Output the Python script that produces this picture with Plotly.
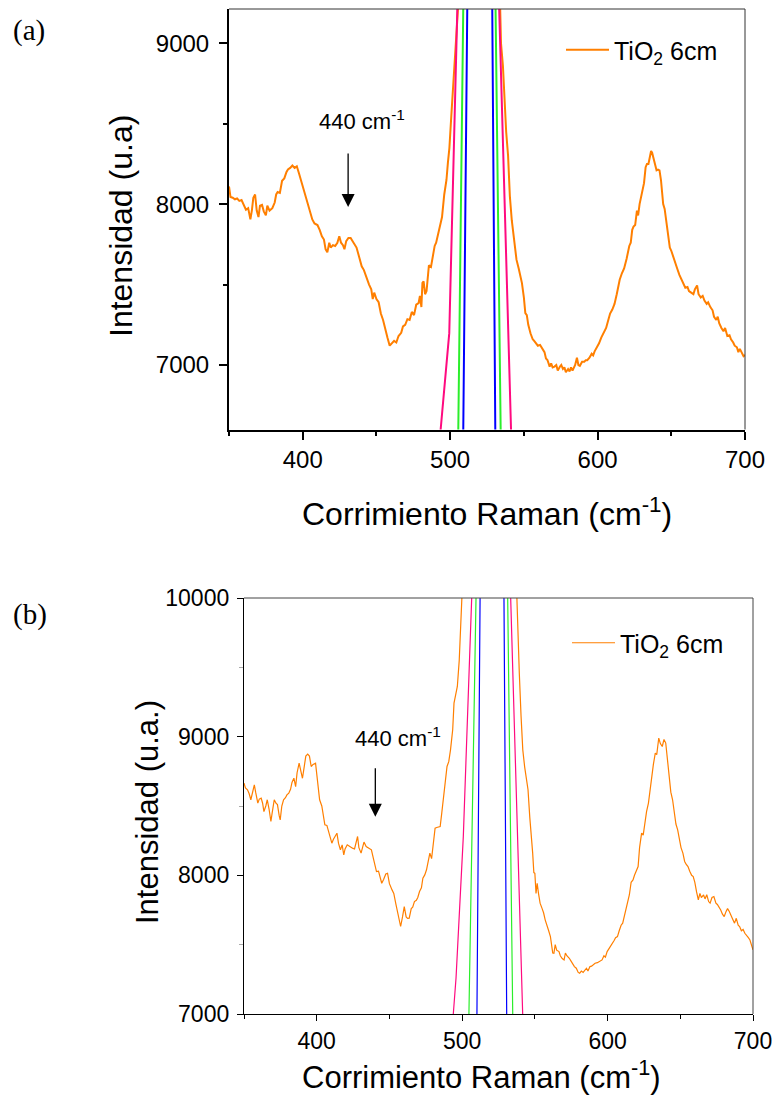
import plotly.graph_objects as go

# ---------------- Panel (a) data ----------------
tio2_a_x = [350, 351, 352.5, 354, 355.5, 357, 358.5, 360, 361.5, 363, 364.5, 365.5, 366.5, 367.7, 368.8, 370,
            371, 372.4, 373.6, 375, 376, 377.5, 379.4, 381, 382, 383, 384.5, 386, 387.5, 389, 390, 391.5,
            393, 394.5, 396, 397.5, 399, 400.5, 402, 403.5, 405, 406.5, 408, 410, 411.5, 413, 414.4, 415.5,
            416.7, 418, 419, 420.5, 422, 423.5, 424.8, 426, 427.3, 428.3, 429.5, 431, 432.5, 434, 435.5,
            436.5, 438, 440, 441.5, 443.6, 445, 446.5, 447.5, 448.5, 450, 451.5, 453, 454.5, 456, 457.5,
            459, 460.5, 462, 463.5, 465, 466.8, 468, 469.5, 471, 472.5, 474, 475.5, 477, 478.6, 479.5,
            480.5, 481.2, 482, 483, 484, 485.6, 487, 488.5, 489.5, 490.5, 492, 493, 494.5, 496, 497.5,
            498.5, 499.5, 500.8, 502, 503, 504, 505.5, 510, 520, 528,
            533.5, 534.5, 535.8, 537, 538, 539.3, 540.5, 541.8, 542.8, 544, 545, 546.5, 547.5, 548.7, 550,
            551, 552, 553, 554.5, 556, 557, 558, 559.5, 561, 562.6, 564, 565, 566, 567.5, 568.5, 569.5,
            570.8, 572, 573, 574.5, 575.4, 576.5, 577.5, 578.5, 580, 581, 582, 583, 584.8, 586, 587, 588,
            589.5, 591, 592, 593, 594.5, 596, 597, 598, 599, 600, 601, 602.5, 604, 605.8, 607, 608.5, 610,
            611.5, 613, 614, 615, 616.5, 618, 619.7, 620.5, 621.5, 622.5, 623.5, 624.4, 625.5, 626.7,
            627.5, 628.5, 629.5, 630.5, 631.5, 632.6, 633.5, 634.5, 635.5, 636.3, 637, 638, 639, 640, 641,
            642, 643, 643.8, 644.5, 645.5, 646.7, 647.5, 649, 650, 651, 652.6, 654, 655.5, 657, 658, 659.5,
            661, 662, 663.5, 665, 666, 667.5, 668.5, 670, 671.3, 672.5, 674, 675, 676.5, 678, 679, 680.5,
            681.5, 682.5, 684, 685.4, 686.5, 688, 689.5, 690.5, 692, 693, 694.5, 695.5, 696.5, 697.5, 699, 700]
tio2_a_y = [8110, 8045, 8040, 8030, 8035, 8020, 8025, 7990, 7965, 7975, 7905, 7960, 8040, 8060, 7960, 7920,
            7990, 7995, 7955, 7930, 7990, 7960, 7975, 8010, 8060, 8075, 8070, 8145, 8160, 8200, 8216, 8225,
            8240, 8225, 8235, 8190, 8143, 8090, 8040, 8000, 7950, 7905, 7880, 7870, 7840, 7800, 7780, 7720,
            7700, 7760, 7730, 7745, 7740, 7760, 7800, 7760, 7745, 7720, 7770, 7790, 7790, 7770, 7750,
            7730, 7680, 7613, 7590, 7530, 7500, 7470, 7410, 7450, 7410, 7390, 7320, 7280, 7215, 7170,
            7120, 7135, 7150, 7140, 7180, 7200, 7240, 7250, 7285, 7280, 7330, 7310, 7375, 7385, 7430,
            7360, 7510, 7520, 7440, 7460, 7620, 7610, 7700, 7740, 7760, 7820, 7860, 7920, 8060, 8150,
            8260, 8350, 8550, 8720, 8860, 9050, 9240, 11500, 15000, 11500,
            9240, 9000, 8860, 8600, 8450, 8300, 8050, 7900, 7821, 7760, 7655, 7600, 7560, 7509, 7420,
            7322, 7310, 7250, 7197, 7160, 7150, 7135, 7120, 7125, 7100, 7080, 7040, 7031, 6990, 7010, 6985,
            6990, 7000, 6965, 6990, 7000, 6975, 6985, 6955, 6975, 6960, 6985, 6965, 7000, 7045, 7000, 6995,
            7020, 7020, 7030, 7030, 7045, 7070, 7060, 7085, 7100, 7120, 7135, 7170, 7200, 7230, 7270, 7320, 7345,
            7380, 7440, 7500, 7530, 7570, 7600, 7660, 7700, 7740, 7760, 7840, 7860, 7870, 7960,
            7930, 8000, 8050, 8090, 8130, 8230, 8250, 8250, 8300, 8330, 8320, 8280, 8260, 8210, 8215,
            8210, 8150, 8040, 8000, 7970, 7880, 7830, 7730, 7710, 7680, 7630, 7600, 7560, 7530, 7510, 7480,
            7485, 7460, 7450, 7440, 7470, 7495, 7440, 7420, 7430, 7400, 7380, 7390, 7360, 7340, 7300, 7280,
            7300, 7260, 7230, 7210, 7230, 7180, 7185, 7160, 7140, 7120, 7110, 7080, 7100, 7080, 7055, 7062]

pink_a_x = [492.6, 499.4, 505.1, 520, 533.0, 541.6]
pink_a_y = [6500, 7198, 9300, 100000, 9300, 6500]
green_a_x = [505.4, 509.0, 520, 530.7, 534.4]
green_a_y = [6500, 9300, 100000, 9300, 6500]
blue_a_x = [508.8, 511.7, 520, 528.5, 530.7]
blue_a_y = [6500, 9300, 100000, 9300, 6500]

# ---------------- Panel (b) data ----------------
tio2_b_x = [350, 351, 352.4, 353.5, 354.7, 355.8, 357.1, 358, 359.5, 360.5, 361.8, 362.8, 363.7, 365, 366,
            367.2, 368.5, 369.5, 370.8, 372, 373, 374.2, 374.9, 376, 377.2, 378.5, 379.5, 380.8, 382, 383,
            384.3, 385.5, 386.5, 387.9, 389, 390.2, 391.5, 392.5, 393.8, 395, 396.2, 397.5, 399.2, 400, 401,
            402, 403.5, 405.6, 407, 408.5, 410.4, 411.5, 412.5, 413.9, 415, 416.3, 417.5, 418.6, 419.5, 421,
            422.5, 423.5, 424.6, 426, 427, 428.1, 429, 430.5, 431.5, 432.5, 434, 435.5, 437.6, 439, 440,
            441.1, 442.5, 443.5, 444.7, 446, 447.5, 448.7, 450, 451.8, 453, 454.3, 455.3, 456.5, 457.7, 459,
            460.2, 461.5, 462.5, 463.6, 465, 466, 467.2, 468.5, 469.5, 470.7, 472, 473, 474.3, 475.5, 476.5,
            477.8, 479, 480, 481.4, 482.5, 484, 484.9, 486, 487.3, 488.5, 489.6, 490.8, 492, 493.5, 494.4,
            495.5, 496.7, 498, 499.1, 500.5, 510, 520, 530,
            537.4, 538.2, 539.3, 540.5, 541.7, 543, 544.2, 545.3, 546.5, 547.6, 548.5, 549.3, 550, 550.8,
            551.6, 552.5, 553.6, 555, 556, 557.1, 558.5, 559.5, 560.7, 561.5, 562.3, 563.1, 564, 565, 566.6,
            567.5, 568.8, 570.1, 571, 572, 573.7, 575, 576, 577.2, 578.5, 579.8, 580.8, 582, 583.2, 584.3,
            585.5, 586.5, 587.9, 589, 590.3, 591.4, 593, 594.5, 596.2, 597.5, 598.5, 599.7, 601, 602, 603.3,
            604.5, 605.5, 606.8, 608, 609.3, 610.4, 611.5, 612.8, 613.9, 615, 616.2, 617.5, 618.5, 619.8,
            621, 622, 623.4, 624.5, 625.7, 626.8, 628.1, 629.2, 630.5, 631.5, 632.8, 633.8, 635.2, 636.3,
            637.6, 638.8, 640, 641, 642.3, 643.5, 644.7, 646, 647, 648.2, 649.5, 650.5, 651.8, 653, 654,
            655.3, 656.5, 657.8, 658.9, 660, 661.2, 662.4, 663.5, 664.5, 666, 667, 668.2, 669.5, 670.5,
            671.8, 673.1, 674.5, 675.5, 676.6, 677.8, 679, 680.2, 681.5, 682.5, 683.7, 685, 686.2, 687.3,
            688.5, 689.8, 690.8, 692, 693.2, 694.4, 695.5, 696.8, 697.9, 699, 700]
tio2_b_y = [8665, 8630, 8617, 8590, 8545, 8600, 8653, 8600, 8521, 8550, 8557, 8520, 8460, 8500, 8545,
            8480, 8388, 8460, 8545, 8520, 8510, 8430, 8400, 8500, 8545, 8560, 8580, 8593, 8620, 8670,
            8701, 8640, 8740, 8809, 8760, 8700, 8790, 8860, 8874, 8860, 8785, 8800, 8809, 8740, 8620,
            8545, 8500, 8364, 8360, 8300, 8232, 8260, 8280, 8304, 8230, 8184, 8220, 8148, 8190, 8220,
            8210, 8200, 8196, 8190, 8230, 8280, 8200, 8160, 8200, 8240, 8208, 8200, 8184, 8120, 8080,
            8027, 8030, 7990, 7943, 7970, 8010, 8015, 7940, 7895, 7870, 7800, 7751, 7700, 7631, 7700,
            7775, 7700, 7690, 7691, 7760, 7770, 7811, 7820, 7840, 7883, 7910, 7980, 8003, 8040, 8100,
            8160, 8120, 8200, 8340, 8345, 8350, 8352, 8450, 8569, 8680, 8785, 8820, 8905, 9050, 9242,
            9300, 9362, 9550, 9771, 10000, 12500, 15000, 12500,
            10000, 9700, 9459, 9150, 8905, 8780, 8680, 8617, 8420, 8304, 8160, 8020, 8015, 7870,
            7943, 7870, 7799, 7760, 7730, 7679, 7640, 7600, 7558, 7480, 7440, 7438, 7500, 7460, 7450,
            7420, 7400, 7390, 7440, 7420, 7402, 7380, 7360, 7342, 7330, 7300, 7294, 7310, 7300, 7318,
            7330, 7310, 7342, 7345, 7360, 7366, 7370, 7380, 7390, 7420, 7410, 7450, 7470, 7490, 7510,
            7530, 7550, 7558, 7600, 7640, 7655, 7700, 7760, 7799, 7860, 7950, 7967, 8000, 8040,
            8063, 8200, 8304, 8290, 8400, 8460, 8521, 8620, 8713, 8800, 8881, 8870, 8990, 8950,
            8929, 8980, 8954, 8850, 8713, 8600, 8545, 8450, 8370, 8328, 8260, 8200, 8160, 8100, 8080,
            8063, 8030, 8000, 7991, 7950, 7880, 7823, 7870, 7840, 7859, 7830, 7860, 7811, 7800,
            7840, 7847, 7800, 7790, 7775, 7750, 7720, 7703, 7740, 7760, 7739, 7700, 7680, 7655,
            7690, 7640, 7631, 7600, 7610, 7582, 7570, 7550, 7534, 7500, 7462]

pink_b_x = [493.2, 495.8, 500.8, 506.9, 520, 533.1, 541.9]
pink_b_y = [6900, 7260, 8279, 10100, 100000, 10100, 6900]
green_b_x = [504.5, 509.7, 520, 531.2, 534.9]
green_b_y = [6900, 10100, 100000, 10100, 6900]
blue_b_x = [510.1, 512.4, 520, 528.7, 530.7]
blue_b_y = [6900, 10100, 100000, 10100, 6900]

x_ticks = [400, 500, 600, 700]
x_minor = [350, 450, 550, 650]
y_ticks_a = [7000, 8000, 9000]
y_minor_a = [7500, 8500]
y_ticks_b = [7000, 8000, 9000, 10000]
y_minor_b = [7500, 8500, 9500]

ORANGE = "#FF7F00"
PINK = "#FF0A7F"
GREEN = "#2BEE2B"
BLUE = "#0000FF"
FONT = "Liberation Sans, Arial, sans-serif"
SERIF = "Liberation Serif, Times New Roman, serif"

W, H = 774, 1097
def fx(p): return p / W
def fy(p): return 1 - p / H

# plot-area pixel boxes
A_L, A_R, A_T, A_B = 229, 745, 9, 429.5
B_L, B_R, B_T, B_B = 244, 753, 598, 1014

fig = go.Figure()

fig.add_trace(go.Scatter(x=tio2_a_x, y=tio2_a_y, mode="lines", line=dict(color=ORANGE, width=2),
                         name="TiO<sub>2</sub> 6cm", xaxis="x", yaxis="y", legend="legend"))
for xs, ys, c in [(pink_a_x, pink_a_y, PINK), (green_a_x, green_a_y, GREEN), (blue_a_x, blue_a_y, BLUE)]:
    fig.add_trace(go.Scatter(x=xs, y=ys, mode="lines", line=dict(color=c, width=2),
                             showlegend=False, xaxis="x", yaxis="y"))

fig.add_trace(go.Scatter(x=tio2_b_x, y=tio2_b_y, mode="lines", line=dict(color=ORANGE, width=1.2),
                         name="TiO<sub>2</sub> 6cm", xaxis="x2", yaxis="y2", legend="legend2"))
for xs, ys, c in [(pink_b_x, pink_b_y, PINK), (green_b_x, green_b_y, GREEN), (blue_b_x, blue_b_y, BLUE)]:
    fig.add_trace(go.Scatter(x=xs, y=ys, mode="lines", line=dict(color=c, width=1.2),
                             showlegend=False, xaxis="x2", yaxis="y2"))

def ax(lw, tl, size, minor_vals, minor_color):
    return dict(showline=True, linecolor="black", linewidth=lw, mirror=False,
                ticks="outside", ticklen=tl, tickwidth=lw, tickcolor="black",
                showgrid=False, zeroline=False, automargin=False,
                tickfont=dict(family=FONT, size=size, color="black"),
                minor=dict(tickvals=minor_vals, ticks="outside", ticklen=4,
                           tickcolor=minor_color, tickwidth=lw))

fig.update_layout(
    template="none",
    width=W, height=H,
    margin=dict(l=0, r=0, t=0, b=0),
    paper_bgcolor="white", plot_bgcolor="white",
    font=dict(family=FONT, color="black"),
    xaxis=dict(ax(2, 8, 24, x_minor, "black"), domain=[fx(A_L), fx(A_R)], range=[350, 700], anchor="y",
               tickvals=x_ticks, ticktext=[str(v) for v in x_ticks]),
    yaxis=dict(ax(2, 8, 24, y_minor_a, "black"), domain=[fy(A_B), fy(A_T)], range=[6599, 9213], anchor="x",
               tickvals=y_ticks_a, ticktext=[str(v) for v in y_ticks_a], ticklabelstandoff=5),
    xaxis2=dict(ax(1.3, 6, 23, x_minor, "black"), domain=[fx(B_L), fx(B_R)], range=[350, 700], anchor="y2",
                tickvals=x_ticks, ticktext=[str(v) for v in x_ticks]),
    yaxis2=dict(ax(1.3, 6, 23, y_minor_b, "#AAAAAA"), domain=[fy(B_B), fy(B_T)], range=[7000, 10000], anchor="x2",
                tickvals=y_ticks_b, ticktext=[str(v) for v in y_ticks_b], ticklabelstandoff=3),
    legend=dict(x=fx(561), y=fy(50), xanchor="left", yanchor="middle", bgcolor="rgba(0,0,0,0)",
                itemwidth=43, font=dict(family=FONT, size=25, color="black")),
    legend2=dict(x=fx(567), y=fy(643), xanchor="left", yanchor="middle", bgcolor="rgba(0,0,0,0)",
                 itemwidth=43, font=dict(family=FONT, size=25, color="black")),
    shapes=[
        dict(type="line", xref="paper", yref="paper", x0=fx(A_L), x1=fx(A_R), y0=fy(A_T), y1=fy(A_T),
             line=dict(color="#333333", width=1)),
        dict(type="line", xref="paper", yref="paper", x0=fx(A_R), x1=fx(A_R), y0=fy(A_T), y1=fy(A_B),
             line=dict(color="#333333", width=1)),
        dict(type="line", xref="paper", yref="paper", x0=fx(B_L), x1=fx(B_R), y0=fy(B_T), y1=fy(B_T),
             line=dict(color="#444444", width=1)),
        dict(type="line", xref="paper", yref="paper", x0=fx(B_R), x1=fx(B_R), y0=fy(B_T), y1=fy(B_B),
             line=dict(color="#444444", width=1)),
    ],
    annotations=[
        dict(text="(a)", x=fx(29), y=fy(31), xref="paper", yref="paper", xanchor="center", yanchor="middle",
             showarrow=False, font=dict(family=SERIF, size=29)),
        dict(text="(b)", x=fx(30), y=fy(614), xref="paper", yref="paper", xanchor="center", yanchor="middle",
             showarrow=False, font=dict(family=SERIF, size=29)),
        dict(text="Corrimiento Raman (cm<sup>-1</sup>)", x=fx(487), y=fy(512), xref="paper", yref="paper",
             xanchor="center", yanchor="middle", showarrow=False, font=dict(family=FONT, size=32)),
        dict(text="Intensidad (u.a)", x=fx(121), y=fy(226), xref="paper", yref="paper", textangle=-90,
             xanchor="center", yanchor="middle", showarrow=False, font=dict(family=FONT, size=32)),
        dict(text="Corrimiento Raman (cm<sup>-1</sup>)", x=fx(481), y=fy(1075), xref="paper", yref="paper",
             xanchor="center", yanchor="middle", showarrow=False, font=dict(family=FONT, size=31)),
        dict(text="Intensidad (u.a.)", x=fx(147), y=fy(812), xref="paper", yref="paper", textangle=-90,
             xanchor="center", yanchor="middle", showarrow=False, font=dict(family=FONT, size=31)),
        dict(text="440 cm<sup>-1</sup>", x=440.5, y=8520, xref="x", yref="y", showarrow=False,
             xanchor="center", yanchor="middle", font=dict(family=FONT, size=22)),
        dict(x=430.8, y=7982, ax=430.8, ay=8324, xref="x", yref="y", axref="x", ayref="y",
             text="", showarrow=True, arrowhead=2, arrowsize=2, arrowwidth=1.3, arrowcolor="black"),
        dict(text="440 cm<sup>-1</sup>", x=455.7, y=8999, xref="x2", yref="y2", showarrow=False,
             xanchor="center", yanchor="middle", font=dict(family=FONT, size=22)),
        dict(x=440.3, y=8423, ax=440.3, ay=8783, xref="x2", yref="y2", axref="x2", ayref="y2",
             text="", showarrow=True, arrowhead=2, arrowsize=2, arrowwidth=1.3, arrowcolor="black"),
    ],
)

fig.write_html("out.html")
